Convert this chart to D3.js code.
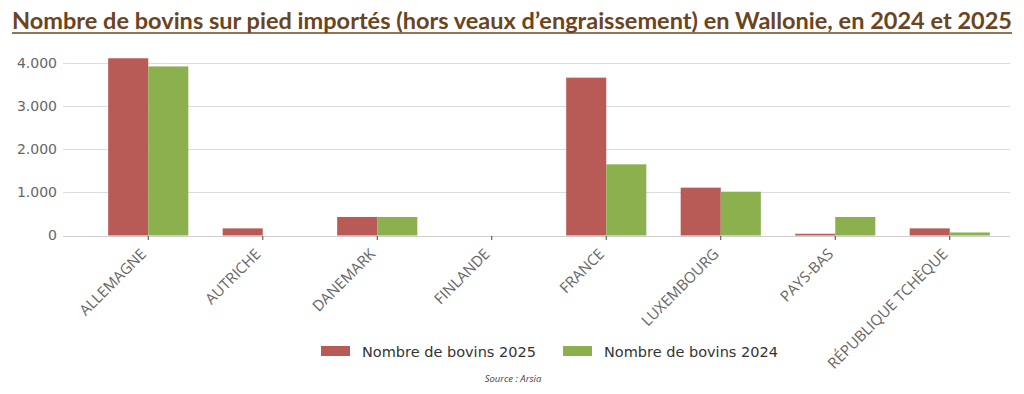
<!DOCTYPE html>
<html>
<head>
<meta charset="utf-8">
<script src="https://cdn.jsdelivr.net/npm/d3@7"></script>
<style>
  body { margin:0; background:#fff; }
  svg { display:block; }
</style>
</head>
<body>
<svg width="1024" height="394"></svg>
<script>
const countries = ['ALLEMAGNE','AUTRICHE','DANEMARK','FINLANDE','FRANCE','LUXEMBOURG','PAYS-BAS','RÉPUBLIQUE TCHÈQUE']
const bovins2025 = [4110, 165, 430, 0, 3660, 1110, 40, 165]
const bovins2024 = [3920, 0, 430, 0, 1650, 1015, 430, 70]
const seriesNames = ['Nombre de bovins 2025','Nombre de bovins 2024']
const yTicks = [0, 1000, 2000, 3000, 4000]

const colors = ['#b85a55','#8cb04e']

const svg = d3.select('svg')
const plotLeft = 63, plotRight = 1010

// title
svg.append('text')
  .attr('x', 12).attr('y', 29)
  .attr('fill', '#6b4420')
  .attr('font-family', 'Lato, sans-serif')
  .attr('font-weight', 'bold')
  .attr('font-size', 22)
  .attr('textLength', 1000)
  .attr('lengthAdjust', 'spacingAndGlyphs')
  .text('Nombre de bovins sur pied importés (hors veaux d’engraissement) en Wallonie, en 2024 et 2025')
svg.append('line')
  .attr('x1', 12).attr('x2', 1012).attr('y1', 33).attr('y2', 33)
  .attr('stroke', '#6b4420').attr('stroke-width', 1.5)

const x = d3.scaleBand().domain(countries).range([91, 1007]).paddingInner(0.3).paddingOuter(0.15)
const y = d3.scaleLinear().domain([0, 4000]).range([235.5, 63])

// gridlines
svg.append('g').selectAll('line').data(yTicks).join('line')
  .attr('x1', plotLeft).attr('x2', plotRight)
  .attr('y1', d => Math.round(y(d)) + 0.5).attr('y2', d => Math.round(y(d)) + 0.5)
  .attr('stroke', d => d === 0 ? '#cfcfcf' : '#dcdcdc').attr('stroke-width', 1.2)

// y axis labels
const yAxis = svg.append('g')
  .attr('transform', `translate(${plotLeft},0)`)
  .call(d3.axisLeft(y).tickValues(yTicks).tickSize(0).tickPadding(6)
    .tickFormat(d => d3.format(',')(d).replace(/,/g, '.')))
yAxis.select('.domain').remove()
yAxis.selectAll('text')
  .attr('font-family', 'DejaVu Sans, sans-serif')
  .attr('font-size', 14)
  .attr('fill', '#666')

// bars
const groups = svg.append('g').selectAll('g').data(countries).join('g')
  .attr('transform', d => `translate(${x(d)},0)`)
const bw = x.bandwidth() / 2
groups.append('rect')
  .attr('x', 0).attr('width', bw)
  .attr('y', (d, i) => y(bovins2025[i]))
  .attr('height', (d, i) => y(0) - y(bovins2025[i]))
  .attr('fill', colors[0])
groups.append('rect')
  .attr('x', bw).attr('width', bw)
  .attr('y', (d, i) => y(bovins2024[i]))
  .attr('height', (d, i) => y(0) - y(bovins2024[i]))
  .attr('fill', colors[1])

// x axis
const xAxis = svg.append('g')
  .attr('transform', `translate(0,${Math.round(y(0))})`)
  .call(d3.axisBottom(x).tickSize(4).tickPadding(0))
xAxis.select('.domain').remove()
xAxis.selectAll('.tick line').attr('stroke', '#444')
xAxis.selectAll('text')
  .attr('font-family', 'Open Sans, sans-serif')
  .attr('font-size', 15)
  .attr('fill', '#666')
  .attr('text-anchor', 'end')
  .attr('y', 0).attr('dy', 0)
  .attr('transform', 'translate(-1,19) rotate(-45)')

// legend
const legend = svg.append('g')
const legX = [321, 563]
seriesNames.forEach((name, i) => {
  legend.append('rect')
    .attr('x', legX[i]).attr('y', 346).attr('width', 29).attr('height', 10)
    .attr('fill', colors[i])
  legend.append('text')
    .attr('x', legX[i] + 41).attr('y', 357)
    .attr('font-family', 'DejaVu Sans, sans-serif')
    .attr('font-size', 14.5)
    .attr('fill', '#333')
    .text(name)
})

svg.append('text')
  .attr('x', 513).attr('y', 382)
  .attr('text-anchor', 'middle')
  .attr('font-family', 'Open Sans, sans-serif')
  .attr('font-style', 'italic')
  .attr('font-size', 9.5)
  .attr('fill', '#444')
  .text('Source : Arsia')
</script>
</body>
</html>
